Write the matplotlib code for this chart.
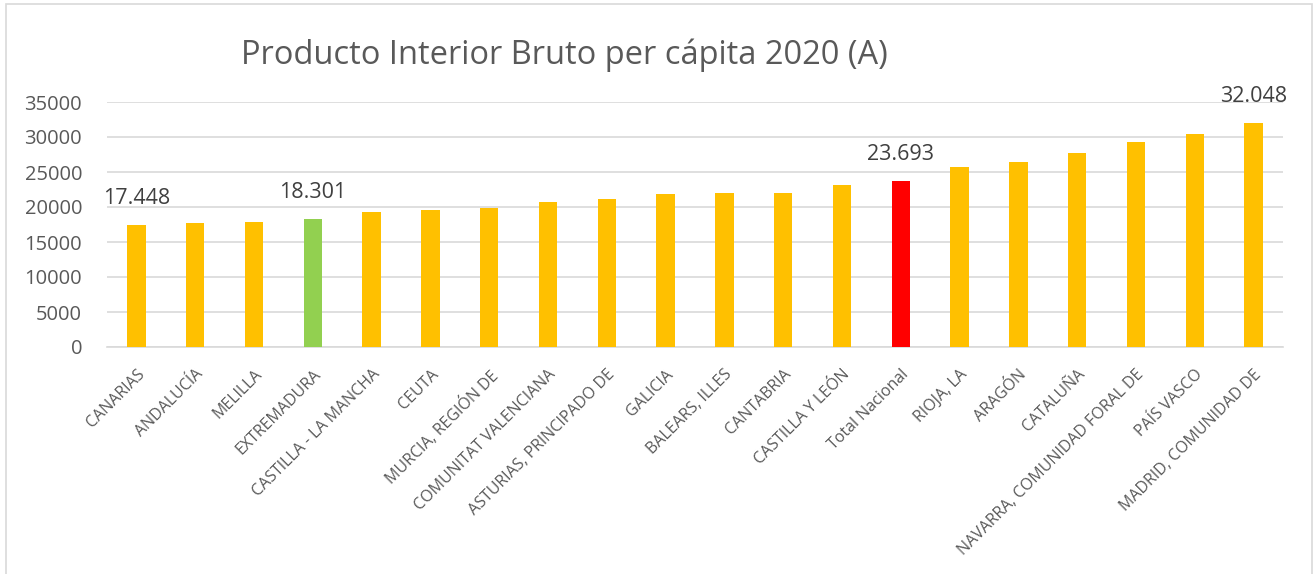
import numpy as np
import matplotlib
matplotlib.use('Agg')
import matplotlib.pyplot as plt
from matplotlib.patches import Rectangle

plt.rcParams['font.family'] = ['Open Sans', 'DejaVu Sans']

# ── Data ──────────────────────────────────────────────────────────────────────
regions = ['CANARIAS', 'ANDALUCÍA', 'MELILLA', 'EXTREMADURA', 'CASTILLA - LA MANCHA',
           'CEUTA', 'MURCIA, REGIÓN DE', 'COMUNITAT VALENCIANA', 'ASTURIAS, PRINCIPADO DE',
           'GALICIA', 'BALEARS, ILLES', 'CANTABRIA', 'CASTILLA Y LEÓN', 'Total Nacional',
           'RIOJA, LA', 'ARAGÓN', 'CATALUÑA', 'NAVARRA, COMUNIDAD FORAL DE',
           'PAÍS VASCO', 'MADRID, COMUNIDAD DE']
pib = [17448, 17700, 17900, 18301, 19300, 19600, 19800, 20750, 21100, 21850,
       22000, 21950, 23150, 23693, 25650, 26400, 27750, 29300, 30400, 32048]
labelled = ['CANARIAS', 'EXTREMADURA', 'Total Nacional', 'MADRID, COMUNIDAD DE']

# ── Colors ────────────────────────────────────────────────────────────────────
YELLOW = '#FFC000'
GREEN  = '#92D050'
RED    = '#FF0000'
GRID   = '#D9D9D9'
TEXT   = '#595959'
special = {'EXTREMADURA': GREEN, 'Total Nacional': RED}
colors = [special.get(r, YELLOW) for r in regions]

# ── Figure ────────────────────────────────────────────────────────────────────
fig = plt.figure(figsize=(13.14, 5.74), dpi=100)
fig.patch.set_facecolor('white')
fig.patches.append(Rectangle((6 / 1314, -0.05), 1306 / 1314, 1.05 - 4 / 574,
                             transform=fig.transFigure, fill=False,
                             edgecolor=GRID, linewidth=1.2))

ax = fig.add_axes([107 / 1314, 227 / 574, 1176 / 1314, 245 / 574])
x = np.arange(len(regions))
bars = ax.bar(x, pib, width=0.31, color=colors, zorder=3)

ax.set_xlim(-0.5, len(regions) - 0.5)
ax.set_ylim(0, 35000)
ax.set_yticks(np.arange(0, 35001, 5000))
ax.yaxis.grid(True, color=GRID, linewidth=1.2, zorder=0)
ax.set_axisbelow(True)
for side in ['top', 'right', 'left']:
    ax.spines[side].set_visible(False)
ax.spines['bottom'].set_color(GRID)
ax.spines['bottom'].set_linewidth(1.2)
ax.tick_params(axis='both', length=0, colors=TEXT)
ax.tick_params(axis='y', labelsize=14.5, pad=18)

ax.set_xticks(x)
ax.set_xticklabels(regions, rotation=45, ha='right', va='top',
                   rotation_mode='anchor', fontsize=11.5, color=TEXT)
ax.tick_params(axis='x', pad=14)

for bar, name, val in zip(bars, regions, pib):
    if name in labelled:
        ax.annotate(f'{val:,}'.replace(',', '.'),
                    (bar.get_x() + bar.get_width() / 2, val),
                    xytext=(0, 19), textcoords='offset points',
                    ha='center', va='center', fontsize=15.5, color='#404040',
                    annotation_clip=False)

fig.text(564 / 1314, 1 - 55 / 574, 'Producto Interior Bruto per cápita 2020 (A)',
         ha='center', va='center', fontsize=23.5, color=TEXT)

plt.savefig('out.png', dpi=100, facecolor=fig.get_facecolor())
